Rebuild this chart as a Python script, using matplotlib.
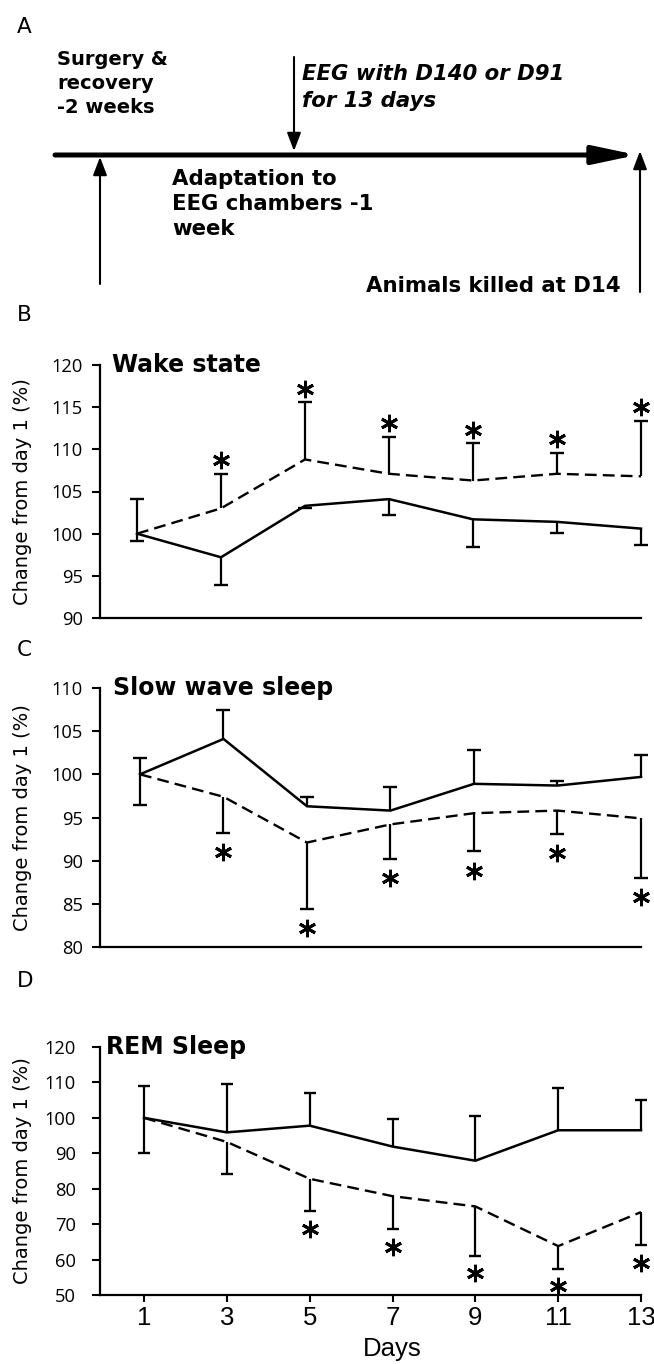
import matplotlib
matplotlib.use("Agg")
import matplotlib.pyplot as plt
from matplotlib.transforms import offset_copy

# ---------------- data ----------------
days = [1, 3, 5, 7, 9, 11, 13]
day_ticks = [1, 3, 5, 7, 9, 11, 13]

wake_ctrl = [100, 97.2, 103.3, 104.1, 101.7, 101.4, 100.6]
wake_ctrl_cap = [99.1, 93.9, 103.1, 102.2, 98.4, 100.1, 98.6]
wake_drug = [100, 103.0, 108.8, 107.1, 106.3, 107.1, 106.8]
wake_drug_cap = [104.1, 107.1, 115.6, 111.5, 110.7, 109.6, 113.4]
wake_sig = [False, True, True, True, True, True, True]

sws_ctrl = [100, 104.1, 96.3, 95.8, 98.9, 98.7, 99.7]
sws_ctrl_cap = [101.9, 107.4, 97.4, 98.5, 102.8, 99.2, 102.2]
sws_drug = [100, 97.4, 92.1, 94.2, 95.5, 95.8, 94.9]
sws_drug_cap = [96.4, 93.2, 84.4, 90.2, 91.1, 93.1, 88.0]
sws_sig = [False, True, True, True, True, True, True]

rem_ctrl = [100, 95.9, 97.8, 91.9, 87.9, 96.5, 96.5]
rem_ctrl_cap = [108.9, 109.6, 106.9, 99.8, 100.4, 108.4, 105.1]
rem_drug = [100, 93.2, 82.8, 77.9, 75.0, 63.8, 73.4]
rem_drug_cap = [90.2, 84.1, 73.6, 68.5, 61.0, 57.4, 64.0]
rem_sig = [False, False, True, True, True, True, True]

titles = ["Wake state", "Slow wave sleep", "REM Sleep"]
ylims = [(90, 120), (80, 110), (50, 120)]
yticks = [[90, 95, 100, 105, 110, 115, 120],
          [80, 85, 90, 95, 100, 105, 110],
          [50, 60, 70, 80, 90, 100, 110, 120]]

# ---------------- figure ----------------
W, H = 654, 1364
fig = plt.figure(figsize=(W / 100, H / 100), dpi=100)


def fx(px):
    return px / W


def fy(py):
    return 1 - py / H


# ---------- Panel A (timeline diagram, pixel coordinates) ----------
a0 = fig.add_axes([0, fy(300), 1, 300 / H])
a0.set_xlim(0, W)
a0.set_ylim(300, 0)
a0.axis("off")

bold = dict(family="DejaVu Sans", fontweight="bold", color="black")
# main timeline
a0.annotate("", xy=(637, 155), xytext=(55, 155),
            arrowprops=dict(arrowstyle="-|>,head_length=2.6,head_width=0.55",
                            lw=3.6, color="black", shrinkA=0, shrinkB=0,
                            mutation_scale=10))
# thin arrows
thin = dict(arrowstyle="-|>,head_length=1.1,head_width=0.42", lw=1.5,
            color="black", shrinkA=0, shrinkB=0, mutation_scale=10)
a0.annotate("", xy=(100, 157), xytext=(100, 284), arrowprops=thin)
a0.annotate("", xy=(294, 151), xytext=(294, 57), arrowprops=thin)
a0.annotate("", xy=(640, 151), xytext=(640, 292), arrowprops=thin)

for s, yb in zip(["Surgery &", "recovery", "-2 weeks"], [65, 89, 113]):
    a0.text(57, yb, s, fontsize=14, va="baseline", ha="left", **bold)
for s, yb in zip(["EEG with D140 or D91", "for 13 days"], [80, 107]):
    a0.text(302, yb, s, fontsize=15.3, va="baseline", ha="left",
            style="italic", **bold)
for s, yb in zip(["Adaptation to", "EEG chambers -1", "week"], [185, 210, 235]):
    a0.text(172, yb, s, fontsize=15.3, va="baseline", ha="left", **bold)
a0.text(621, 292, "Animals killed at D14", fontsize=15.3, va="baseline",
        ha="right", **bold)

# panel letters
for letter, py in zip(["A", "B", "C", "D"], [27, 315, 650, 981]):
    fig.text(fx(17), fy(py), letter, fontsize=15.5, va="center", ha="left",
             family="DejaVu Sans")

# ---------- Panels B, C, D ----------
panels = [
    dict(top=365, bot=618, xl=0.119, ctrl=wake_ctrl, ctrl_cap=wake_ctrl_cap,
         drug=wake_drug, drug_cap=wake_drug_cap, sig=wake_sig,
         star_off=9.6, pad=7, cap=10, tx=0.022),
    dict(top=688, bot=947, xl=0.042, ctrl=sws_ctrl, ctrl_cap=sws_ctrl_cap,
         drug=sws_drug, drug_cap=sws_drug_cap, sig=sws_sig,
         star_off=-14.0, pad=7, cap=10, tx=0.024),
    dict(top=1047, bot=1295, xl=-0.063, ctrl=rem_ctrl, ctrl_cap=rem_ctrl_cap,
         drug=rem_drug, drug_cap=rem_drug_cap, sig=rem_sig,
         star_off=-12.4, pad=12, cap=8.5, tx=0.011),
]

left_px, right_px = 100, 641
for i, p in enumerate(panels):
    ax = fig.add_axes([fx(left_px), fy(p["bot"]), (right_px - left_px) / W,
                       (p["bot"] - p["top"]) / H])
    ax.set_xlim(p["xl"], 13)
    ax.set_ylim(*ylims[i])
    ax.set_yticks(yticks[i])
    for s in ["top", "right"]:
        ax.spines[s].set_visible(False)
    for s in ["left", "bottom"]:
        ax.spines[s].set_linewidth(1.6)
    ax.tick_params(axis="y", length=5.5, width=1.5, pad=p["pad"],
                   labelsize=13.2, direction="out")
    for lab in ax.get_yticklabels():
        lab.set_family("Open Sans")

    # lines
    ax.plot(days, p["ctrl"], color="black", lw=1.8, clip_on=False)
    ax.plot(days, p["drug"], color="black", lw=1.7, dashes=(5, 2.6),
            clip_on=False)
    # one-sided error bars
    for mean, capv in [(p["ctrl"], p["ctrl_cap"]), (p["drug"], p["drug_cap"])]:
        ax.vlines(days, mean, capv, color="black", lw=1.6, clip_on=False)
        ax.plot(days, capv, ls="none", marker="_", ms=p["cap"], mew=1.7,
                color="black", clip_on=False)
    # significance asterisks (6-armed, offset from the error-bar caps)
    star_tr = offset_copy(ax.transData, fig=fig, x=0, y=p["star_off"],
                          units="points")
    sx = [d for d, sg in zip(days, p["sig"]) if sg]
    sy = [c for c, sg in zip(p["drug_cap"], p["sig"]) if sg]
    ax.plot(sx, sy, ls="none", marker=(6, 2, 0), ms=12.5, mew=2.1,
            color="black", transform=star_tr, clip_on=False)
    # title
    ax.text(p["tx"], 1.0, titles[i], transform=ax.transAxes, ha="left",
            va="center", fontsize=17, fontweight="bold",
            family="DejaVu Sans")
    # y label
    fig.text(fx(23), fy((p["top"] + p["bot"]) / 2), "Change from day 1 (%)",
             rotation=90, ha="center", va="center", fontsize=14,
             family="DejaVu Sans")

    if i < 2:
        ax.set_xticks([])
    else:
        ax.set_xticks(day_ticks)
        ax.set_xticklabels([str(t) for t in day_ticks])
        ax.tick_params(axis="x", length=5, width=1.5, pad=3, labelsize=18.5)
        for lab in ax.get_xticklabels():
            lab.set_family("Liberation Sans")
        ax.set_xlabel("Days", fontsize=18.5, family="Liberation Sans")
        ax.xaxis.set_label_coords(0.54, -0.17)

fig.savefig("out.png", dpi=100)
